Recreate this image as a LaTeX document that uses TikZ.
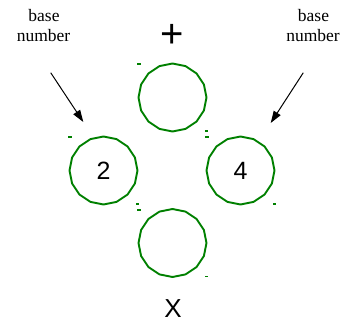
\documentclass[tikz,border=0pt]{standalone}
\usepackage{fontspec}
\setmainfont{Liberation Sans}
\newfontfamily\labelserif{Liberation Serif}
\usetikzlibrary{shapes.geometric,arrows.meta}
\definecolor{ringgreen}{RGB}{0,128,0}
\tikzset{
  ring/.style={draw=ringgreen, line width=1.9pt, regular polygon, regular polygon sides=16,
    shape border rotate=11.25, minimum size=68pt, inner sep=0pt,
    font=\fontsize{25}{25}\selectfont},
  handle/.style={fill=ringgreen},
  lbl/.style={font=\labelserif\fontsize{17.5}{20}\selectfont, inner sep=0pt, anchor=base},
  pointer/.style={line width=1pt, -{Triangle[length=12pt,width=8pt]}},
}
\begin{document}
\begin{tikzpicture}[x=1pt,y=-1pt]
\useasboundingbox (0,0) rectangle (354,324);
% circles
\node[ring] (top) at (172.5,97.5) {};
\node[ring] (left) at (103.5,170.5) {2};
\node[ring] (right) at (240.5,170.5) {4};
\node[ring] (bottom) at (172.5,243) {};
% handles
\foreach \c in {top,left,right,bottom}{
  \fill[handle] ([shift={(-35.5,-34.2)}]\c.center) rectangle ([shift={(-32,-32.5)}]\c.center);
  \fill[handle] ([shift={(32,32.5)}]\c.center) rectangle ([shift={(35.5,34.2)}]\c.center);
}
% operators
\node[inner sep=0pt, anchor=base, font=\fontsize{40}{40}\selectfont] (plus) at (172.5,48) {+};
\node[inner sep=0pt, anchor=base, font=\fontsize{26}{26}\selectfont] (times) at (173,317.5) {X};
% labels
\node[lbl] (lbase) at (44,21.7) {base};
\node[lbl] (lnum) at (43.5,41.7) {number};
\node[lbl] (rbase) at (313.5,21.7) {base};
\node[lbl] (rnum) at (313,41.7) {number};
% arrows
\coordinate (la) at (50.7,72.7);
\coordinate (lb) at (83.3,122);
\coordinate (ra) at (303.3,72.7);
\coordinate (rb) at (270.7,123);
\draw[pointer] (la) -- (lb);
\draw[pointer] (ra) -- (rb);
\end{tikzpicture}
\end{document}
